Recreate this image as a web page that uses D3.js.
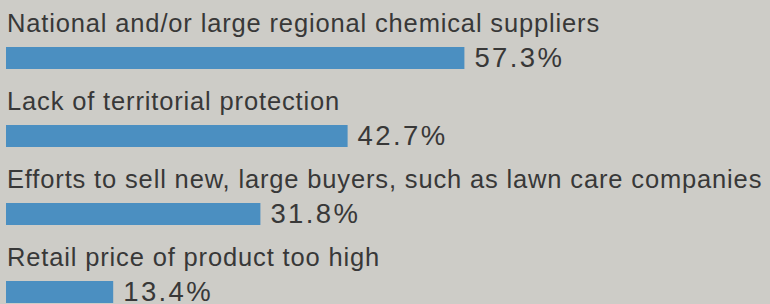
<!DOCTYPE html>
<html>
<head>
    <title>Competitive pressures</title>
    <style type="text/css">
        body {
            margin: 0;
            background: #cdccc7;
        }

        .cat-label {
            font-family: "Liberation Sans", Arial, sans-serif;
            font-size: 25.5px;
            letter-spacing: 0.85px;
            fill: #383838;
        }

        .value-label {
            font-family: "Liberation Sans", Arial, sans-serif;
            font-size: 27.5px;
            letter-spacing: 2.4px;
            fill: #383838;
        }

        .bar {
            fill: #4b8fc1;
        }
    </style>
</head>
<body>
    <div id="chart"></div>
    <script src="https://cdnjs.cloudflare.com/ajax/libs/d3/7.8.5/d3.min.js"></script>
    <script>

      var categories = [
        "National and/or large regional chemical suppliers",
        "Lack of territorial protection",
        "Efforts to sell new, large buyers, such as lawn care companies",
        "Retail price of product too high"
      ];
      var values = [57.3, 42.7, 31.8, 13.4];

      var width = 770,
          height = 304,
          rowStep = 78,   // distance between one group and the next
          firstTop = 47,  // top of the first bar
          barHeight = 22;

      var svg = d3.select("#chart")
          .append("svg")
          .attr("width", width)
          .attr("height", height);

      //  Bars start at the left edge, 8px per percent
      var x = d3.scaleLinear()
          .domain([0, 100])
          .range([6, 806]);

      //  One band per group, the bar sits at its top
      var y = d3.scaleBand()
          .domain(d3.range(categories.length))
          .range([firstTop, firstTop + rowStep * categories.length]);

      var rows = svg.selectAll(".row")
          .data(categories.map(function (c, i) { return { name: c, value: values[i], i: i }; }))
          .enter().append("g")
          .attr("class", "row")
          .attr("transform", function (d) { return "translate(0," + y(d.i) + ")"; });

      rows.append("text")
          .attr("class", "cat-label")
          .attr("x", 7)
          .attr("y", -15)
          .text(function (d) { return d.name; });

      rows.append("rect")
          .attr("class", "bar")
          .attr("x", x(0))
          .attr("y", 0)
          .attr("width", function (d) { return x(d.value) - x(0); })
          .attr("height", barHeight);

      rows.append("text")
          .attr("class", "value-label")
          .attr("x", function (d) { return x(d.value) + 10; })
          .attr("y", 20)
          .text(function (d) { return d.value.toFixed(1) + "%"; });

    </script>
</body>
</html>
